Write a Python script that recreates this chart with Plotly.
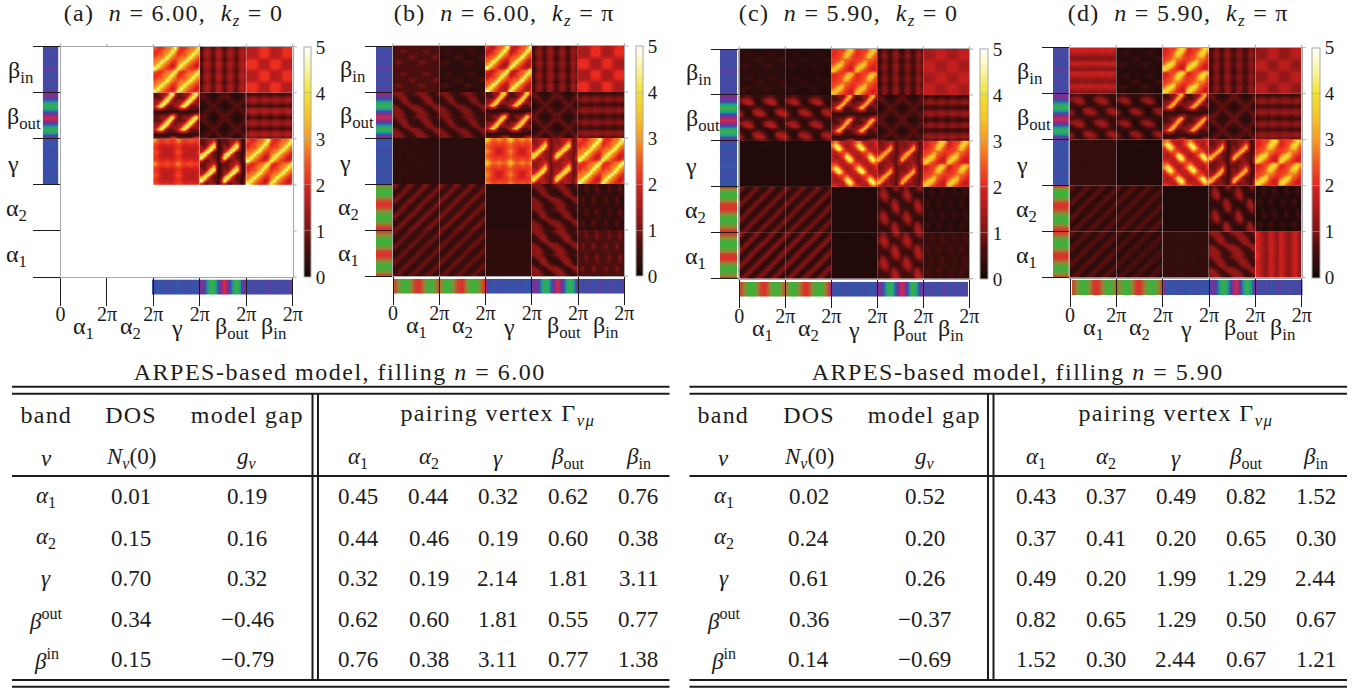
import plotly.graph_objects as go

W, H = 1358, 688
SERIF = "Liberation Serif"
INK = "#1c1c1c"

BANDS_TOP_DOWN = ["β<sub>in</sub>", "β<sub>out</sub>", "γ", "α<sub>2</sub>", "α<sub>1</sub>"]
BANDS_LEFT_RIGHT = ["α<sub>1</sub>", "α<sub>2</sub>", "γ", "β<sub>out</sub>", "β<sub>in</sub>"]
X_TICK_TEXT = ["0", "2π", "2π", "2π", "2π", "2π"]
CB_TICKS = [0, 1, 2, 3, 4, 5]

# Texture tiles, 0-9 between the block's low and high value
STRIPE = [[9,7,3,0,3,7],[7,3,0,3,7,9],[3,0,3,7,9,7],[0,3,7,9,7,3],[3,7,9,7,3,0],[7,9,7,3,0,3]]
HOTUP = [[2,1,1,2,3,3,4,9],[1,1,2,3,3,4,9,4],[1,2,2,3,4,9,4,3],[2,3,3,4,9,4,3,2],
         [3,3,4,9,4,3,2,1],[3,4,9,4,3,2,1,1],[4,9,4,3,2,1,0,1],[9,4,3,2,1,1,1,2]]
STREAK = [[1,1,2,2,3,6,9,3],[1,1,1,3,6,9,4,1],[2,2,3,6,9,4,2,1],[2,3,6,9,4,2,2,2],
          [3,6,9,4,1,1,1,2],[2,3,3,2,1,1,1,1],[0,0,0,0,0,0,0,0],[1,1,1,1,1,2,3,3]]
STEEP = [[1,1,2,2,3,2,0,1],[1,1,2,3,6,3,0,1],[2,1,3,6,9,3,0,1],[2,3,6,9,4,2,0,1],
         [3,6,9,4,1,1,0,1],[6,9,4,2,1,1,0,2],[9,4,2,2,1,1,0,3],[3,1,1,2,2,1,0,3]]
BLOB = [[9,5,3,4,5,4,3,5],[5,3,2,2,3,2,2,3],[3,2,1,1,1,1,1,2],[4,2,1,0,0,0,1,2],
        [5,3,1,0,0,0,1,3],[4,2,1,0,0,0,1,2],[3,2,1,1,1,1,1,2],[5,3,2,2,3,2,2,3]]
BLOBD = [[3,4,2,1,1,1,1,2],[4,9,5,2,1,0,1,2],[2,5,9,4,2,1,1,1],[1,2,4,3,2,2,1,1],
         [1,1,2,2,3,4,2,1],[1,0,1,2,4,9,5,2],[1,1,1,1,2,5,9,4],[2,2,1,1,1,2,4,3]]
BEADS = [[1,1,2,2,3,6,9,6],[1,1,2,3,6,9,7,3],[1,2,2,4,7,7,4,2],[2,2,3,4,4,4,3,2],
         [2,3,4,7,4,3,2,1],[3,6,9,7,3,2,1,1],[6,9,7,4,2,1,0,1],[9,6,3,2,1,1,1,1]]
PLAIDV = [[0,4,6,3,1,5,7,3],[2,6,8,4,2,7,9,5],[2,6,8,4,2,6,9,5],[1,5,7,3,1,6,8,4],
          [0,4,6,3,1,5,7,3],[2,6,8,4,2,7,9,5],[2,6,8,4,2,6,9,5],[1,5,7,3,1,6,8,4]]
PLAIDH = [[0,2,2,1,0,2,2,1],[4,6,6,5,4,6,6,5],[6,8,8,7,6,8,8,7],[3,4,4,3,3,4,4,3],
          [1,2,2,1,1,2,2,1],[5,7,6,6,5,7,6,6],[7,9,9,8,7,9,9,8],[3,5,5,4,3,5,5,4]]
CHECK = [[3,3,3,4,8,9,9,8],[3,2,2,4,9,9,9,9],[3,2,2,4,9,9,9,9],[4,4,4,5,7,8,8,7],
         [8,9,9,7,4,3,3,4],[9,9,9,8,3,2,2,3],[9,9,9,8,3,2,2,3],[8,9,9,7,4,3,3,4]]
XLAT = [[7,6,2,1,0,1,2,6],[6,9,5,2,1,2,5,9],[2,5,8,5,2,5,8,5],[1,2,5,8,5,8,5,2],
        [0,1,2,5,9,5,2,1],[1,2,5,8,5,8,5,2],[2,5,8,5,2,5,8,5],[6,9,5,2,1,2,5,9]]
TILT = [[7,8,8,5,2,1,2,5],[2,7,8,8,6,1,0,2],[0,2,7,9,8,4,1,0],[1,0,3,8,8,7,3,1],
        [6,2,1,2,6,8,8,7],[8,7,3,1,0,4,8,8],[8,9,7,3,0,1,3,7],[7,8,8,6,2,0,0,2]]
ELLH = [[2,3,4,3,2,1,1,1],[6,8,8,6,4,1,0,2],[4,7,9,9,7,3,0,1],[1,2,4,5,4,3,1,0],
        [1,1,1,1,2,3,4,3],[4,1,0,1,6,8,8,6],[7,3,0,1,4,7,9,9],[4,3,1,0,1,2,4,5]]
ELLV = [[2,6,4,1,1,4,7,4],[3,8,7,2,1,1,3,3],[4,8,9,4,1,0,0,1],[3,6,9,5,1,1,1,0],
        [2,4,7,4,2,6,4,1],[1,1,3,3,3,8,7,2],[1,0,0,1,4,8,9,4],[1,2,1,0,3,6,9,5]]
SPECKH = [[2,1,1,1,2,1,1,2],[1,2,5,6,3,1,1,1],[1,1,2,3,2,1,2,3],[1,1,1,1,1,4,7,5],
          [2,1,1,1,2,2,4,3],[3,7,6,3,1,1,1,1],[2,4,3,1,1,1,1,2],[1,1,1,1,2,1,1,1]]
SPECKV = [[1,1,5,1,1,2,6,1],[1,2,7,2,1,3,8,2],[1,1,5,3,1,2,6,3],[1,1,2,1,1,1,3,2],
          [2,5,1,1,3,6,1,1],[3,7,2,1,4,8,2,1],[2,5,1,1,3,5,1,1],[1,2,1,1,1,2,1,1]]
FLAT = [[4,5,4,3,5,4,4,5],[5,4,4,4,4,5,4,4],[4,4,6,4,3,4,5,4],[3,4,4,5,4,4,4,3],
        [5,4,3,4,5,4,4,5],[4,5,4,4,4,6,4,4],[4,4,5,3,4,4,5,4],[4,3,4,4,5,4,4,4]]
STRIPEH = [[9,9,9,9,9,9,9,9],[7,7,8,7,7,8,7,7],[3,3,3,4,3,3,4,3],[1,1,1,1,1,1,1,1],
           [5,5,5,6,5,5,6,5],[8,9,8,8,9,8,8,9],[4,4,5,4,4,5,4,4],[1,0,1,1,0,1,1,0]]
STRIPEV = [[9,6,2,0,5,9,5,1],[9,7,3,1,5,8,4,1],[8,6,2,0,6,9,4,1],[9,7,3,1,5,9,5,1],
           [9,6,2,0,5,8,4,1],[8,7,3,1,6,9,5,1],[9,6,2,0,5,9,4,1],[9,7,3,1,5,8,5,1]]
TILE_REPEATS = {id(STRIPE): 3}

# Panel blocks, rows from the top, columns from the left: (tile, low value, high value)
PANEL_A = [
    [None, None, (HOTUP, 1.7, 4.9), (PLAIDV, 0.5, 1.7), (CHECK, 1.5, 2.1)],
    [None, None, (STREAK, 0.3, 5.0), (XLAT, 0.15, 0.9), (PLAIDH, 0.4, 1.7)],
    [None, None, (BLOB, 1.7, 3.0), (STEEP, 0.3, 5.0), (HOTUP, 1.6, 4.9)],
    [None] * 5,
    [None] * 5,
]
PANEL_B = [
    [(SPECKH, 0.55, 1.15), (SPECKH, 0.2, 0.85), (HOTUP, 1.3, 5.0), (PLAIDV, 0.4, 1.4), (CHECK, 1.3, 2.05)],
    [(TILT, 0.35, 1.2), (TILT, 0.3, 1.1), (STREAK, 0.25, 4.4), (XLAT, 0.2, 1.0), (PLAIDH, 0.4, 1.3)],
    [(FLAT, 0.2, 0.45), (FLAT, 0.18, 0.32), (BLOB, 1.9, 3.7), (STEEP, 0.8, 4.5), (HOTUP, 1.6, 5.0)],
    [(STRIPE, 0.3, 1.0), (STRIPE, 0.3, 1.0), (FLAT, 0.15, 0.28), (TILT, 0.3, 1.2), (SPECKV, 0.25, 0.95)],
    [(STRIPE, 0.3, 0.9), (STRIPE, 0.3, 0.9), (FLAT, 0.2, 0.45), (TILT, 0.3, 1.3), (SPECKV, 0.55, 1.15)],
]
PANEL_C = [
    [(SPECKH, 0.2, 0.7), (SPECKH, 0.15, 0.5), (BEADS, 1.8, 3.7), (PLAIDV, 0.3, 1.3), (CHECK, 1.35, 1.8)],
    [(ELLH, 0.2, 1.7), (ELLH, 0.2, 1.6), (STREAK, 0.3, 3.8), (XLAT, 0.2, 0.9), (PLAIDH, 0.3, 1.4)],
    [(FLAT, 0.12, 0.22), (FLAT, 0.12, 0.22), (BLOBD, 1.2, 5.0), (STEEP, 0.7, 3.7), (BEADS, 1.7, 3.9)],
    [(STRIPE, 0.2, 1.0), (STRIPE, 0.2, 1.0), (FLAT, 0.12, 0.22), (ELLV, 0.3, 1.6), (SPECKV, 0.15, 0.6)],
    [(STRIPE, 0.2, 1.1), (STRIPE, 0.2, 1.1), (FLAT, 0.12, 0.22), (ELLV, 0.4, 1.7), (SPECKV, 0.3, 0.8)],
]
PANEL_D = [
    [(STRIPEH, 1.0, 1.9), (SPECKH, 0.15, 0.7), (BEADS, 1.7, 4.2), (PLAIDV, 0.4, 1.3), (CHECK, 1.1, 1.7)],
    [(ELLH, 0.3, 1.5), (ELLH, 0.15, 1.4), (STREAK, 0.3, 3.8), (XLAT, 0.2, 1.0), (PLAIDH, 0.4, 1.4)],
    [(FLAT, 0.25, 0.55), (FLAT, 0.12, 0.22), (BLOBD, 1.3, 5.0), (STEEP, 0.5, 3.8), (BEADS, 1.7, 4.2)],
    [(STRIPE, 0.2, 0.8), (STRIPE, 0.2, 0.8), (FLAT, 0.12, 0.22), (ELLV, 0.2, 1.5), (SPECKV, 0.1, 0.7)],
    [(STRIPE, 0.2, 0.8), (STRIPE, 0.2, 0.7), (FLAT, 0.25, 0.5), (TILT, 0.4, 1.4), (STRIPEV, 1.1, 2.0)],
]

# Strip samples on one shared scale: -1 green, 0 red, .25 purple, .5 blue, .75 teal, 1 green
STRIP_A1 = [-0.2, -0.7, -1, -1, -0.6, -0.1, 0, -0.3, -0.8, -1, -0.8, -0.2]
STRIP_A2 = [-0.6, -1, -1, -0.5, -0.1, 0, -0.3, -0.8, -1, -0.9, -0.4, 0]
STRIP_G = [0.5, 0.52, 0.5, 0.48, 0.5, 0.5, 0.52, 0.5, 0.48, 0.5, 0.52, 0.5]
STRIP_BO = [0.25, 0.45, 0.8, 1, 0.7, 0.3, 0.05, 0.3, 0.7, 1, 0.75, 0.3]
STRIP_BI = [0.45, 0.5, 0.42, 0.5, 0.48, 0.4, 0.45, 0.5, 0.42, 0.5, 0.45, 0.42]

# Table values
TABLE_ROW_BANDS = ["<i>α</i><sub>1</sub>", "<i>α</i><sub>2</sub>", "<i>γ</i>", "<i>β</i><sup>out</sup>", "<i>β</i><sup>in</sup>"]
VERTEX_HEAD = ["<i>α</i><sub>1</sub>", "<i>α</i><sub>2</sub>", "<i>γ</i>", "<i>β</i><sub>out</sub>", "<i>β</i><sub>in</sub>"]
DOS_600 = ["0.01", "0.15", "0.70", "0.34", "0.15"]
GAP_600 = ["0.19", "0.16", "0.32", "−0.46", "−0.79"]
VERTEX_600 = [["0.45", "0.44", "0.32", "0.62", "0.76"],
              ["0.44", "0.46", "0.19", "0.60", "0.38"],
              ["0.32", "0.19", "2.14", "1.81", "3.11"],
              ["0.62", "0.60", "1.81", "0.55", "0.77"],
              ["0.76", "0.38", "3.11", "0.77", "1.38"]]
DOS_590 = ["0.02", "0.24", "0.61", "0.36", "0.14"]
GAP_590 = ["0.52", "0.20", "0.26", "−0.37", "−0.69"]
VERTEX_590 = [["0.43", "0.37", "0.49", "0.82", "1.52"],
              ["0.37", "0.41", "0.20", "0.65", "0.30"],
              ["0.49", "0.20", "1.99", "1.29", "2.44"],
              ["0.82", "0.65", "1.29", "0.50", "0.67"],
              ["1.52", "0.30", "2.44", "0.67", "1.21"]]

HEAT_SCALE = [[0, "#140505"], [0.05, "#2a0c0c"], [0.14, "#500e0e"], [0.2, "#7c1414"], [0.3, "#a81b1b"],
              [0.39, "#d0211f"], [0.4, "#e8261f"], [0.5, "#f0581f"], [0.6, "#f69a22"], [0.7, "#f5c428"],
              [0.8, "#f2e22e"], [0.9, "#f8f4a0"], [1, "#ffffff"]]
STRIP_SCALE = [[0, "#3cb13c"], [0.25, "#8f8a34"], [0.5, "#e02c2c"], [0.625, "#8a2a90"],
               [0.75, "#3a4fa8"], [0.875, "#1fa090"], [1, "#3cb13c"]]

GEOM = [
    dict(title="(a)  <i>n</i> = 6.00,  <i>k<sub>z</sub></i> = 0", tc=173, blocks=PANEL_A, first=2,
         hx=(60.5, 292.7), hy=(46.7, 277), bx=(152, 292), by=(279.5, 295), lx=(42.7, 58.3), cbx=(303.7, 311)),
    dict(title="(b)  <i>n</i> = 6.00,  <i>k<sub>z</sub></i> = π", tc=504, blocks=PANEL_B, first=0,
         hx=(393, 624.3), hy=(46, 276), bx=(393.3, 625), by=(278.7, 293.7), lx=(376, 392), cbx=(635.7, 642.7)),
    dict(title="(c)  <i>n</i> = 5.90,  <i>k<sub>z</sub></i> = 0", tc=848, blocks=PANEL_C, first=0,
         hx=(739.3, 969.3), hy=(49, 278.7), bx=(739.5, 968), by=(281.7, 296.7), lx=(720, 737.3), cbx=(979.7, 987.7)),
    dict(title="(d)  <i>n</i> = 5.90,  <i>k<sub>z</sub></i> = π", tc=1178, blocks=PANEL_D, first=0,
         hx=(1070, 1301.7), hy=(47.7, 277.7), bx=(1071.7, 1302.7), by=(280, 295), lx=(1053, 1068.7), cbx=(1312.3, 1320)),
]
X_LABEL_POS = [0.5, 1.5, 2.5, 3.7, 4.6]
Y_LABEL_OFFSET = [40, 36, 48, 44, 44]


def fx(p):
    return p / W


def fy(p):
    return 1 - p / H


fig = go.Figure()
layout = {}
shapes = []
annotations = []
spaced = []


def note(x, y, text, size=23, xref="paper", spacing=0):
    if spacing:
        spaced.append((len(annotations), spacing))
    annotations.append(dict(x=x, y=y, xref=xref, yref="paper", text=text, showarrow=False,
                            xanchor="center", yanchor="middle",
                            font=dict(family=SERIF, size=size, color=INK)))


def line(x0, y0, x1, y1, color=INK, width=2):
    shapes.append(dict(type="line", xref="paper", yref="paper", x0=fx(x0), x1=fx(x1), y0=fy(y0), y1=fy(y1),
                       line=dict(color=color, width=width)))


def tile_block(entry):
    tile, low, high = entry
    reps = TILE_REPEATS.get(id(tile), 2)
    return [[low + (high - low) * v / 9 for v in row] * reps for _ in range(reps) for row in tile]


axis_id = 0
for pi, g in enumerate(GEOM, start=1):
    hx0, hx1 = g["hx"]
    hy0, hy1 = g["hy"]
    first = g["first"]
    order_td = [STRIP_BI, STRIP_BO, STRIP_G, STRIP_A2, STRIP_A1]
    order_lr = [STRIP_A1, STRIP_A2, STRIP_G, STRIP_BO, STRIP_BI]
    left_vals = [v for s in order_td[:5 - first] for v in s]
    bottom_vals = [v for s in order_lr[first:] for v in s]

    # left strip
    axis_id += 1
    xa, ya = f"xaxis{axis_id}", f"yaxis{axis_id}"
    layout[xa] = dict(domain=[fx(g["lx"][0]), fx(g["lx"][1])], range=[-0.5, 1.5], visible=False, anchor=f"y{axis_id}")
    layout[ya] = dict(domain=[fy(hy1), fy(hy0)], range=[5, 0], visible=False, anchor=f"x{axis_id}")
    fig.add_trace(go.Heatmap(z=[[v, v] for v in left_vals], x0=0, dx=1, y0=1 / 24, dy=1 / 12,
                             xaxis=f"x{axis_id}", yaxis=f"y{axis_id}", zsmooth="best", zmin=-1, zmax=1,
                             colorscale=STRIP_SCALE, showscale=False, hoverinfo="skip"))
    # bottom strip
    axis_id += 1
    xa, ya = f"xaxis{axis_id}", f"yaxis{axis_id}"
    layout[xa] = dict(domain=[fx(g["bx"][0]), fx(g["bx"][1])], range=[first, 5], visible=False, anchor=f"y{axis_id}")
    layout[ya] = dict(domain=[fy(g["by"][1]), fy(g["by"][0])], range=[-0.5, 1.5], visible=False, anchor=f"x{axis_id}")
    fig.add_trace(go.Heatmap(z=[bottom_vals, bottom_vals], x0=first + 1 / 24, dx=1 / 12, y0=0, dy=1,
                             xaxis=f"x{axis_id}", yaxis=f"y{axis_id}", zsmooth="best", zmin=-1, zmax=1,
                             colorscale=STRIP_SCALE, showscale=False, hoverinfo="skip"))
    # main grid
    axis_id += 1
    main_x, main_y = f"x{axis_id}", f"y{axis_id}"
    layout[f"xaxis{axis_id}"] = dict(
        domain=[fx(hx0), fx(hx1)], range=[0, 5], anchor=main_y, tickvals=list(range(6)), ticktext=X_TICK_TEXT,
        ticks="outside", ticklen=28, tickwidth=1.4, tickcolor=INK, showgrid=False, zeroline=False,
        showline=True, linecolor="#a8a8a8", linewidth=1, mirror=True, ticklabelstandoff=-9,
        tickfont=dict(family=SERIF, size=20, color=INK), tickangle=0)
    layout[f"yaxis{axis_id}"] = dict(
        domain=[fy(hy1), fy(hy0)], range=[5, 0], anchor=main_x, tickvals=list(range(6)), showticklabels=False,
        ticks="outside", ticklen=27, tickwidth=1.4, tickcolor=INK, showgrid=False, zeroline=False,
        showline=True, linecolor="#a8a8a8", linewidth=1, mirror=True)
    ca = "coloraxis" if pi == 1 else f"coloraxis{pi}"
    cb0, cb1 = g["cbx"]
    layout[ca] = dict(cmin=0, cmax=5, colorscale=HEAT_SCALE, colorbar=dict(
        x=fx(cb0), xanchor="left", xpad=0, thickness=cb1 - cb0, thicknessmode="pixels",
        y=fy((hy0 + hy1) / 2), yanchor="middle", ypad=0, len=hy1 - hy0, lenmode="pixels",
        tickvals=CB_TICKS, ticks="inside", ticklen=cb1 - cb0, tickwidth=1, tickcolor="rgba(170,170,150,0.55)",
        outlinecolor="#a8a8a8", outlinewidth=1, borderwidth=0,
        tickfont=dict(family=SERIF, size=19, color=INK)))
    for r, row in enumerate(g["blocks"]):
        for c, entry in enumerate(row):
            if entry is None:
                continue
            z = tile_block(entry)
            n = len(z)
            fig.add_trace(go.Heatmap(z=z, x0=c + 0.5 / n, dx=1 / n, y0=r + 0.5 / n, dy=1 / n,
                                     xaxis=main_x, yaxis=main_y, zsmooth="best", coloraxis=ca, hoverinfo="skip"))
    # small grey ticks on the top and right edges
    bw = (hx1 - hx0) / 5
    bh = (hy1 - hy0) / 5
    for i in range(6):
        line(hx0 + i * bw, hy0, hx0 + i * bw, hy0 - 3, color="#a8a8a8", width=1)
        line(hx1, hy0 + i * bh, hx1 + 4, hy0 + i * bh, color="#a8a8a8", width=1)
    # texts
    note(fx(g["tc"]), fy(15), g["title"], size=24, spacing=1.3)
    for i, label in enumerate(BANDS_LEFT_RIGHT):
        note(X_LABEL_POS[i], fy(hy1 + 51), label, size=24, xref=main_x)
    for i, label in enumerate(BANDS_TOP_DOWN):
        note(fx(hx0 - Y_LABEL_OFFSET[i]), fy(hy0 + (i + 0.55) * bh), label, size=24)


def table(dx, rule_dx, title, dos, gap, vertex):
    xs_band, xs_dos, xs_gap = 46 + dx, 131 + dx, 247 + dx
    xs_vertex = [358 + dx, 428.5 + dx, 498 + dx, 568 + dx, 638 + dx]
    left, right = 12 + dx, 669.5 + dx
    rows_y = [497, 538, 578, 619, 659]
    note(fx(340 + dx), fy(371.5), title, size=24, spacing=1.5)
    line(left, 386.7, right, 386.7)
    line(left, 393.7, right, 393.7)
    line(left, 476, right, 476)
    line(left, 680, right, 680)
    line(left, 686.7, right, 686.7)
    line(312.5 + rule_dx, 393.7, 312.5 + rule_dx, 680)
    line(318 + rule_dx, 393.7, 318 + rule_dx, 680)
    note(fx(xs_band), fy(415), "band", size=24, spacing=1.2)
    note(fx(xs_dos), fy(415), "DOS", size=24, spacing=1.2)
    note(fx(xs_gap), fy(415), "model gap", size=24, spacing=1.4)
    note(fx(xs_vertex[2]), fy(415), "pairing vertex Γ<sub><i>νμ</i></sub>", size=24, spacing=1.4)
    note(fx(xs_band), fy(458), "<i>ν</i>")
    note(fx(xs_dos), fy(458), "<i>N<sub>ν</sub></i>(0)")
    note(fx(xs_gap), fy(458), "<i>g<sub>ν</sub></i>")
    for x, label in zip(xs_vertex, VERTEX_HEAD):
        note(fx(x), fy(458), label)
    for i, y in enumerate(rows_y):
        note(fx(xs_band), fy(y), TABLE_ROW_BANDS[i])
        note(fx(xs_dos), fy(y), dos[i])
        note(fx(xs_gap), fy(y), gap[i])
        for x, v in zip(xs_vertex, vertex[i]):
            note(fx(x), fy(y), v)


table(0, 0, "ARPES-based model, filling <i>n</i> = 6.00", DOS_600, GAP_600, VERTEX_600)
table(677.5, 675.5, "ARPES-based model, filling <i>n</i> = 5.90", DOS_590, GAP_590, VERTEX_590)

fig.update_layout(width=W, height=H, margin=dict(l=0, r=0, t=0, b=0, autoexpand=False), autosize=False,
                  paper_bgcolor="white", plot_bgcolor="white", showlegend=False,
                  shapes=shapes, annotations=annotations, **layout)
css = "".join(f'g.annotation[data-index="{i}"] text{{letter-spacing:{s}px}}' for i, s in spaced)
post = ("document.body.style.margin='0';document.documentElement.style.overflow='hidden';"
        "var st=document.createElement('style');st.textContent='" + css.replace("'", "\\'") + "';"
        "document.head.appendChild(st);")
fig.write_html("out.html", config=dict(displayModeBar=False), post_script=post)
